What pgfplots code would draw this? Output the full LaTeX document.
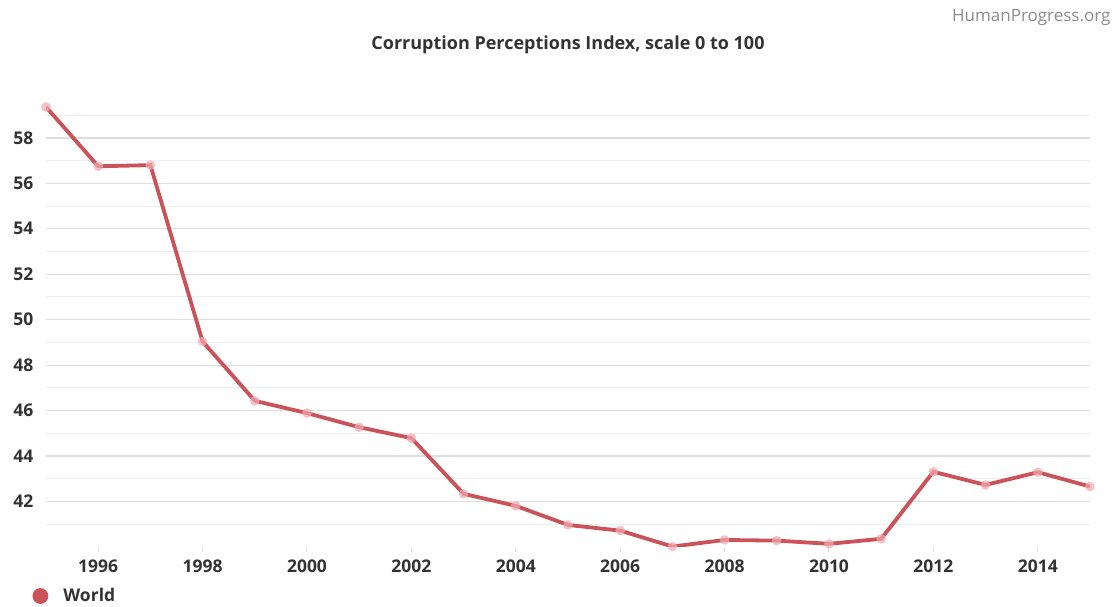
\documentclass[border=0pt]{standalone}
\usepackage{pgfplots}
\pgfplotsset{compat=1.18}
\usepackage{fontspec}
\setmainfont{Open Sans}
\definecolor{linec}{RGB}{204,82,90}
\definecolor{markc}{RGB}{240,170,178}
\definecolor{gridc}{RGB}{222,222,222}
\definecolor{gridm}{RGB}{238,238,238}
\definecolor{txt}{RGB}{51,51,51}
\begin{document}
\begin{tikzpicture}[x=1pt,y=1pt]
\path[use as bounding box] (0,0) rectangle (1119,607);
\begin{axis}[
  at={(46pt,60pt)}, anchor=south west,
  scale only axis, width=1044pt, height=445.5pt,
  xmin=1995, xmax=2015, ymin=40, ymax=59.6,
  axis line style={draw=none},
  xtick={1996,1998,...,2014},
  ytick={42,44,...,58},
  minor ytick={41,43,...,59},
  ymajorgrids, yminorgrids,
  major grid style={gridc, line width=1.3pt},
  minor grid style={gridm, line width=1pt},
  xtick style={draw=gridc, line width=1pt},
  ytick style={draw=none},
  xtick align=outside, xtick pos=bottom, ytick pos=left,
  major tick length=5pt,
  /pgf/number format/assume math mode=true,
  /pgf/number format/set thousands separator={},
  tick label style={font=\bfseries\fontsize{17.5}{20}\selectfont, text=txt},
  yticklabel style={xshift=-9pt},
  xticklabel style={yshift=-4pt},
  legend style={at={(-0.016,-0.11)}, anchor=west, draw=none, fill=none,
    font=\bfseries\fontsize{17.5}{20}\selectfont, text=txt},
  legend image code/.code={\fill[linec] (6pt,0) circle (6pt); \path[draw=none] (0pt,0) -- (27pt,0);},
]
\addplot[linec, line width=3.8pt, mark=*, mark size=4.5pt,
  mark options={fill=markc, draw=markc, line width=0.4pt, fill opacity=0.7, draw opacity=0.7}]
coordinates {
(1995,59.36) (1996,56.75) (1997,56.80) (1998,49.04) (1999,46.43)
(2000,45.89) (2001,45.27) (2002,44.79) (2003,42.34) (2004,41.81)
(2005,40.97) (2006,40.72) (2007,40.02) (2008,40.31) (2009,40.28)
(2010,40.14) (2011,40.36) (2012,43.31) (2013,42.73) (2014,43.29)
(2015,42.66)
};
\addlegendentry{World}
\end{axis}
\node[font=\bfseries\fontsize{18}{21}\selectfont, text=txt] at (568,562) {Corruption Perceptions Index, scale 0 to 100};
\node[anchor=east, font=\fontsize{17}{20}\selectfont, text={rgb,255:red,140;green,140;blue,140}] at (1114,590) {HumanProgress.org};
\end{tikzpicture}
\end{document}
